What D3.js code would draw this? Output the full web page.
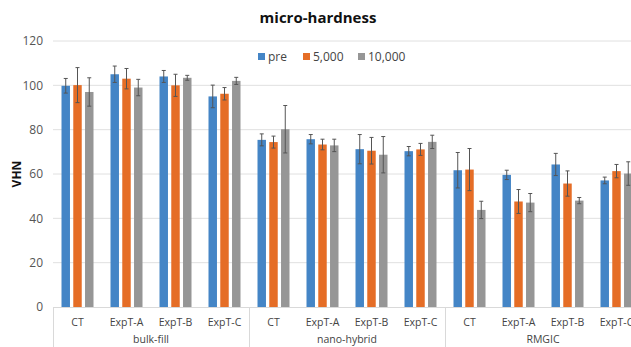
<!DOCTYPE html>
<html>
<head>
<meta charset="utf-8">
<script src="https://cdn.jsdelivr.net/npm/d3@7/dist/d3.min.js"></script>
<style>
  html, body { margin: 0; padding: 0; background: #fff; }
  svg { display: block; font-family: "Open Sans", "Noto Sans", sans-serif; }
</style>
</head>
<body>
<svg id="chart" width="631" height="347"></svg>
<script>
// Material groups and the test conditions within each
const groups = ["bulk-fill", "nano-hybrid", "RMGIC"];
const conditions = ["CT", "ExpT-A", "ExpT-B", "ExpT-C"];
const seriesNames = ["pre", "5,000", "10,000"];
const seriesColors = ["#4485c6", "#e56d26", "#969696"];
const yTicks = [0, 20, 40, 60, 80, 100, 120];

// Mean VHN per category (groups x conditions, in order) for each series
const preValues   = [99.8, 105.0, 104.0, 95.0,  75.4, 75.7, 71.2, 70.3,  61.7, 59.6, 64.3, 57.1];
const k5Values    = [100.1, 103.0, 100.0, 96.2, 74.4, 73.3, 70.5, 71.1,  62.0, 47.6, 55.7, 61.3];
const k10Values   = [97.0, 99.0, 103.4, 102.0,  80.2, 72.9, 68.7, 74.5,  43.8, 47.1, 48.0, 60.2];

// Standard deviations (error bar half-lengths)
const preErr  = [3.3, 3.7, 2.7, 5.1,  2.7, 2.1, 6.6, 2.1,  8.0, 2.1, 5.0, 1.5];
const k5Err   = [7.9, 4.6, 5.0, 2.8,  2.7, 2.4, 6.0, 2.7,  9.5, 5.4, 5.7, 3.0];
const k10Err  = [6.4, 3.7, 1.1, 1.6, 10.7, 2.8, 8.2, 3.0,  3.9, 4.1, 1.4, 5.3];

const series = [
  { name: seriesNames[0], values: preValues, err: preErr, color: seriesColors[0] },
  { name: seriesNames[1], values: k5Values,  err: k5Err,  color: seriesColors[1] },
  { name: seriesNames[2], values: k10Values, err: k10Err, color: seriesColors[2] }
];

const categories = [];
groups.forEach(g => conditions.forEach(c => categories.push({ key: g + "|" + c, group: g, cond: c })));

const svg = d3.select("#chart");
const plotLeft = 53, plotTop = 41, plotBottom = 307;
const catWidth = 49;
const plotRight = plotLeft + categories.length * catWidth;

const y = d3.scaleLinear().domain([0, 120]).range([plotBottom, plotTop]);
const x = d3.scaleBand().domain(categories.map(d => d.key)).range([plotLeft, plotRight]).padding(0);
const inner = d3.scaleBand().domain(seriesNames).range([x.bandwidth() / 2 - 16, x.bandwidth() / 2 + 16]).paddingInner(0.28);

// Title
svg.append("text")
  .attr("x", 318).attr("y", 23)
  .attr("text-anchor", "middle")
  .attr("font-size", 15).attr("font-weight", "bold").attr("fill", "#111")
  .text("micro-hardness");

// Horizontal gridlines
svg.append("g").selectAll("line")
  .data(yTicks.filter(t => t > 0))
  .join("line")
  .attr("x1", plotLeft).attr("x2", 631)
  .attr("y1", d => y(d)).attr("y2", d => y(d))
  .attr("stroke", "#e0e0e0").attr("stroke-width", 1);

// Y axis labels
const yAxis = d3.axisLeft(y).tickValues(yTicks).tickSize(0).tickPadding(10);
const yg = svg.append("g").attr("transform", `translate(${plotLeft},0)`).call(yAxis);
yg.select(".domain").remove();
yg.selectAll("text").attr("font-size", 12).attr("fill", "#555").attr("font-family", "\"Open Sans\", sans-serif");

svg.append("text")
  .attr("transform", `translate(21,${(plotTop + plotBottom) / 2}) rotate(-90)`)
  .attr("text-anchor", "middle")
  .attr("font-size", 12).attr("font-weight", "bold").attr("fill", "#111")
  .text("VHN");

// Bars
const catG = svg.append("g").selectAll("g")
  .data(categories)
  .join("g")
  .attr("transform", d => `translate(${x(d.key)},0)`);

series.forEach((s) => {
  catG.append("rect")
    .attr("x", inner(s.name))
    .attr("width", inner.bandwidth())
    .attr("y", (d, i) => y(s.values[i]))
    .attr("height", (d, i) => y(0) - y(s.values[i]))
    .attr("fill", s.color);
});

// Error bars
series.forEach((s) => {
  const cx = inner(s.name) + inner.bandwidth() / 2;
  const eg = catG.append("g").attr("stroke", "#555").attr("stroke-width", 1);
  eg.append("line")
    .attr("x1", cx).attr("x2", cx)
    .attr("y1", (d, i) => y(s.values[i] + s.err[i]))
    .attr("y2", (d, i) => y(s.values[i] - s.err[i]));
  eg.append("line")
    .attr("x1", cx - 2).attr("x2", cx + 2)
    .attr("y1", (d, i) => y(s.values[i] + s.err[i]))
    .attr("y2", (d, i) => y(s.values[i] + s.err[i]));
  eg.append("line")
    .attr("x1", cx - 2).attr("x2", cx + 2)
    .attr("y1", (d, i) => y(s.values[i] - s.err[i]))
    .attr("y2", (d, i) => y(s.values[i] - s.err[i]));
});

// Category axis
svg.append("line")
  .attr("x1", plotLeft).attr("x2", 631)
  .attr("y1", plotBottom + 0.5).attr("y2", plotBottom + 0.5)
  .attr("stroke", "#d9d9d9");

svg.append("g").selectAll("text")
  .data(categories)
  .join("text")
  .attr("x", d => x(d.key) + x.bandwidth() / 2)
  .attr("y", 326)
  .attr("text-anchor", "middle")
  .attr("font-size", 10.5).attr("fill", "#444")
  .text(d => d.cond);

const groupWidth = catWidth * conditions.length;
svg.append("g").selectAll("text")
  .data(groups)
  .join("text")
  .attr("x", (d, i) => plotLeft + i * groupWidth + groupWidth / 2)
  .attr("y", 343)
  .attr("text-anchor", "middle")
  .attr("font-size", 10.5).attr("fill", "#444")
  .text(d => d);

svg.append("g").selectAll("line")
  .data(d3.range(groups.length + 1))
  .join("line")
  .attr("x1", i => plotLeft + i * groupWidth + 0.5)
  .attr("x2", i => plotLeft + i * groupWidth + 0.5)
  .attr("y1", plotBottom).attr("y2", 347)
  .attr("stroke", "#d9d9d9");

// Legend
const legendX = [258, 303, 358];
const lg = svg.append("g").selectAll("g")
  .data(series)
  .join("g")
  .attr("transform", (d, i) => `translate(${legendX[i]},53)`);
lg.append("rect").attr("width", 7).attr("height", 7).attr("fill", d => d.color);
lg.append("text")
  .attr("x", 10).attr("y", 7.5)
  .attr("font-size", 12).attr("fill", "#444")
  .text(d => d.name);
</script>
</body>
</html>
